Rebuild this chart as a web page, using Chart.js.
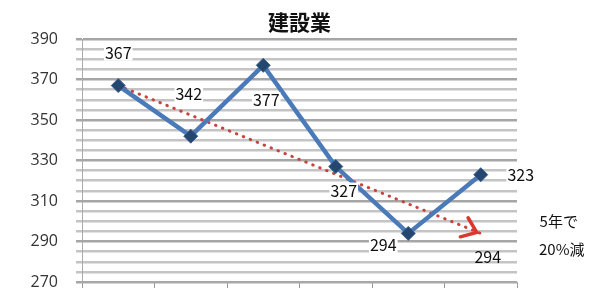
<!DOCTYPE html>
<html>
<head>
<meta charset="utf-8">
<script src="https://cdn.jsdelivr.net/npm/chart.js@4/dist/chart.umd.min.js"></script>
<style>
    html, body { margin: 0; padding: 0; background: #fff; }
    #wrap { width: 595px; height: 290px; }
</style>
</head>
<body>
<div id="wrap"><canvas id="chart"></canvas></div>
<script>
const categories = ['1', '2', '3', '4', '5', '6'];
const workers = [367, 342, 377, 327, 294, 323];
const trend = [367, null, null, null, null, 294];
const yTicks = [270, 290, 310, 330, 350, 370, 390];
const titleText = '建設業';
const noteLines = ['5年で', '20%減'];

// where each value label sits relative to its point
const labelOffsets = [[0, -33], [-2, -42], [3, 35], [8, 24], [-25, 12], [40, 0]];

const FONT = '"Noto Sans CJK JP", "DejaVu Sans", sans-serif';

const labelPlugin = {
    id: 'valueLabels',
    afterDatasetsDraw(chart) {
        const ctx = chart.ctx;
        const area = chart.chartArea;
        ctx.save();

        // title centred over the plot area
        ctx.font = 'bold 21px ' + FONT;
        ctx.fillStyle = '#111';
        ctx.textAlign = 'center';
        ctx.textBaseline = 'middle';
        ctx.fillText(titleText, (area.left + area.right) / 2, area.top - 17);

        const meta = chart.getDatasetMeta(0);
        ctx.font = '16px ' + FONT;
        meta.data.forEach((pt, i) => {
            const off = labelOffsets[i];
            ctx.fillStyle = '#fff';
            const w = ctx.measureText(String(workers[i])).width;
            ctx.fillRect(pt.x + off[0] - w / 2 - 1, pt.y + off[1] - 8, w + 2, 16);
            ctx.fillStyle = '#111';
            ctx.fillText(String(workers[i]), pt.x + off[0], pt.y + off[1]);
        });

        // trend end: arrow head, value and note
        const tMeta = chart.getDatasetMeta(1);
        const a = tMeta.data[0];
        const b = tMeta.data[5];
        const ang = Math.atan2(b.y - a.y, b.x - a.x);
        const tipX = b.x - 4, tipY = b.y - 1;
        ctx.strokeStyle = '#d9382f';
        ctx.lineWidth = 3.5;
        ctx.lineCap = 'round';
        ctx.lineJoin = 'miter';
        ctx.beginPath();
        ctx.moveTo(tipX - 17 * Math.cos(ang - 0.65), tipY - 17 * Math.sin(ang - 0.65));
        ctx.lineTo(tipX, tipY);
        ctx.lineTo(tipX - 17 * Math.cos(ang + 0.65), tipY - 17 * Math.sin(ang + 0.65));
        ctx.stroke();

        ctx.fillStyle = '#111';
        ctx.fillText(String(trend[5]), b.x + 7, b.y + 24);
        ctx.font = '15px ' + FONT;
        ctx.fillText(noteLines[0], b.x + 78, b.y - 12);
        ctx.fillText(noteLines[1], b.x + 81, b.y + 16);
        ctx.restore();
    }
};

new Chart(document.getElementById('chart'), {
    type: 'line',
    data: {
        labels: categories,
        datasets: [{
            data: workers,
            borderColor: '#4a7ab8',
            borderWidth: 4.5,
            pointStyle: 'rectRot',
            pointRadius: 7,
            pointBackgroundColor: '#24466f',
            pointBorderColor: '#3b5f8f',
            pointBorderWidth: 1,
            tension: 0,
            order: 1
        }, {
            data: trend,
            spanGaps: true,
            borderColor: '#c8433c',
            borderWidth: 3,
            borderDash: [0.5, 7],
            borderCapStyle: 'round',
            pointRadius: 0,
            order: 2
        }]
    },
    options: {
        responsive: true,
        maintainAspectRatio: false,
        animation: false,
        layout: { padding: { left: 0, right: 78, top: 39, bottom: 0 } },
        plugins: {
            legend: { display: false },
            tooltip: { enabled: false },
            title: { display: false }
        },
        scales: {
            x: {
                offset: true,
                afterFit(scale) { scale.height = 7; },
                grid: {
                    offset: true,
                    drawOnChartArea: false,
                    tickLength: 6,
                    color: '#999'
                },
                border: { color: '#aaa', width: 1 },
                ticks: { display: false }
            },
            y: {
                min: yTicks[0],
                max: yTicks[yTicks.length - 1],
                afterFit(scale) {
                    scale.width = 82;
                    scale.paddingBottom = 0;
                    scale.paddingTop = 0;
                },
                afterBuildTicks(scale) {
                    const t = [];
                    for (let v = yTicks[0]; v <= yTicks[yTicks.length - 1]; v += 5) t.push({ value: v });
                    scale.ticks = t;
                },
                grid: {
                    lineWidth: 2.5,
                    tickLength: 6,
                    color: (c) => (c.tick && yTicks.includes(c.tick.value)) ? '#a6a6a6' : '#c4c4c4'
                },
                border: { color: '#aaa', width: 1 },
                ticks: {
                    autoSkip: false,
                    color: '#333',
                    padding: 18,
                    font: { family: '"Open Sans", sans-serif', size: 16 },
                    callback: (v) => yTicks.includes(v) ? String(v) : ''
                }
            }
        }
    },
    plugins: [labelPlugin]
});
</script>
</body>
</html>
